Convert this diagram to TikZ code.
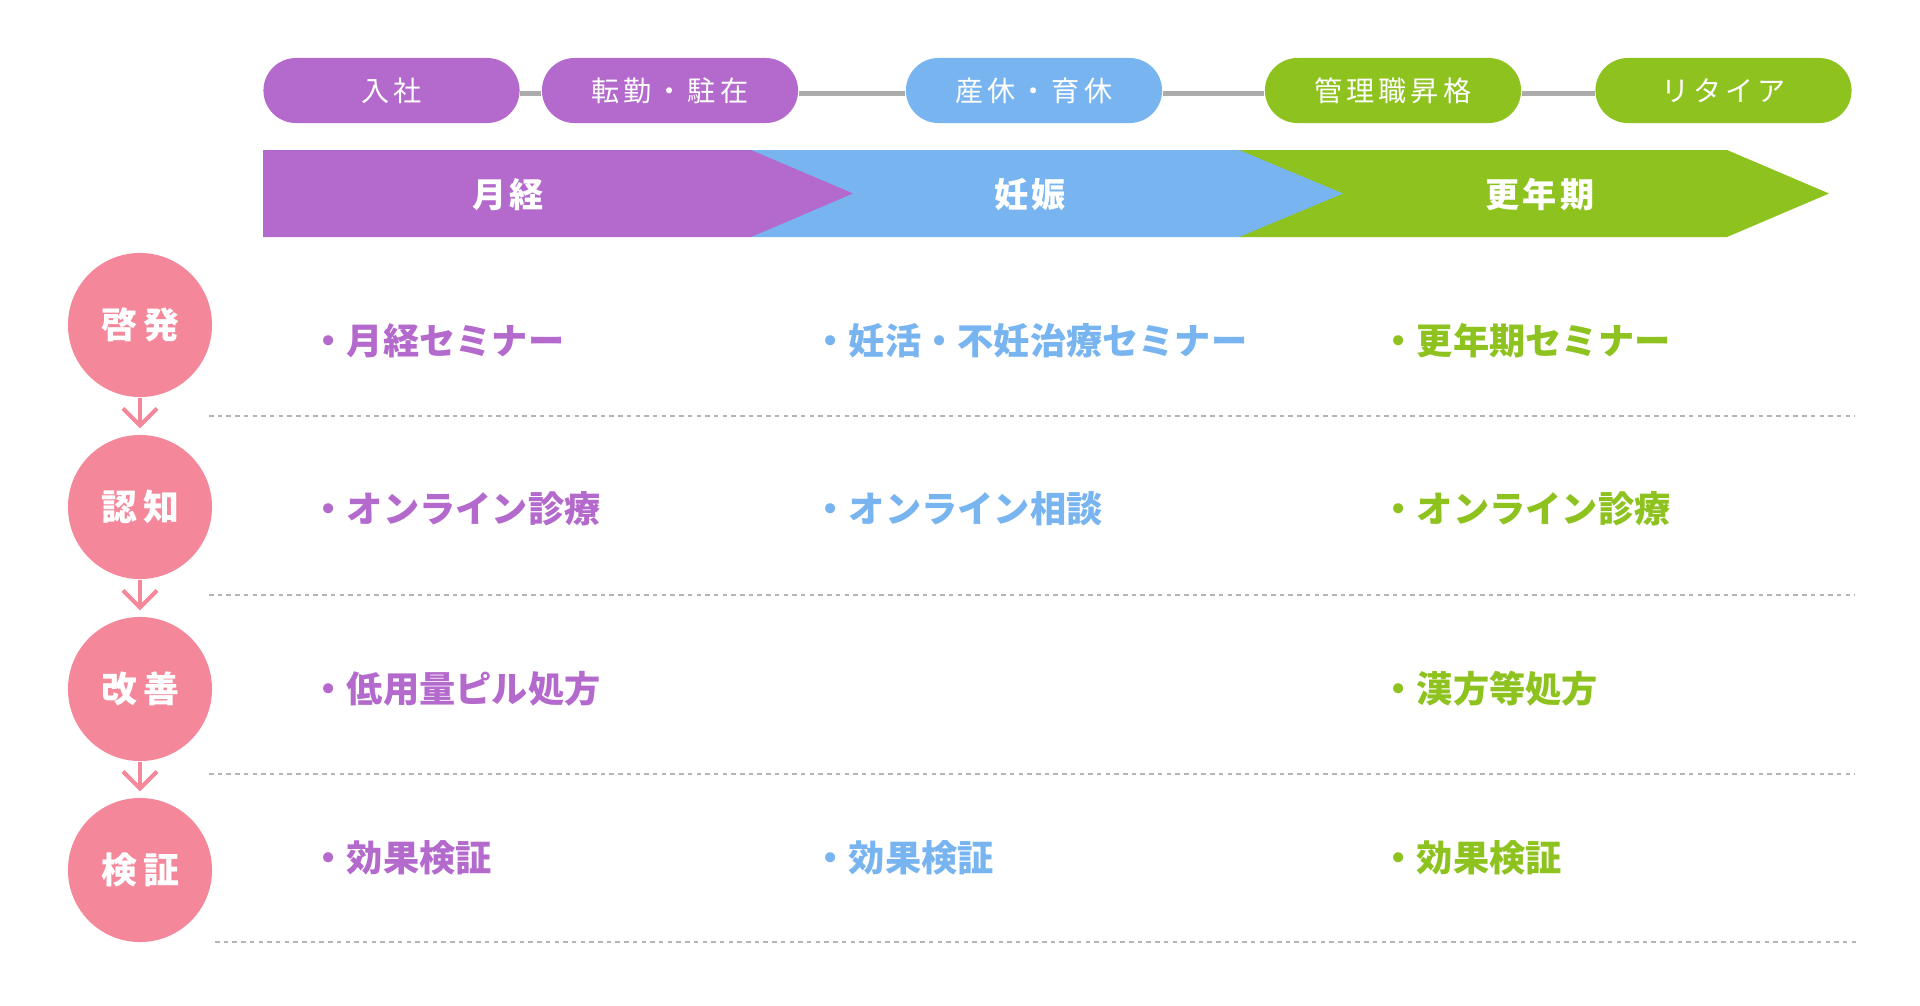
\documentclass[tikz,border=0pt]{standalone}
\usepackage{fontspec}
\setmainfont{Noto Sans CJK JP}
\usetikzlibrary{arrows.meta,backgrounds}
\definecolor{cpurple}{HTML}{B469CC}
\definecolor{cblue}{HTML}{78B4F0}
\definecolor{cgreen}{HTML}{8DC21F}
\definecolor{cpink}{HTML}{F4889A}
\definecolor{cline}{HTML}{ABABAB}
\definecolor{cdash}{HTML}{B5B5B5}
\begin{document}
\begin{tikzpicture}[x=0.01cm,y=-0.01cm,
  pill/.style={rounded corners=0.325cm, minimum width=2.56cm, minimum height=0.65cm, inner sep=0pt,
    text=white, font=\fontsize{8}{9}\selectfont\addfontfeature{LetterSpace=14}},
  bandlabel/.style={text=white, inner sep=0pt, font=\fontsize{9.7}{11}\selectfont\bfseries\addfontfeature{LetterSpace=9}},
  stage/.style={circle, fill=cpink, minimum size=1.44cm, inner sep=0pt, text=white,
    font=\fontsize{10.2}{12}\selectfont\bfseries\addfontfeature{LetterSpace=17}},
  item/.style={anchor=west, inner sep=0pt, font=\fontsize{10.3}{12}\selectfont\bfseries},
  stagearrow/.style={draw=cpink, line width=0.04cm, -{Straight Barb[length=0.17cm,width=0.34cm,line width=0.04cm]}, shorten >=0.06cm},
  sep/.style={draw=cdash, line width=0.02cm, dash pattern=on 0.045cm off 0.042cm},
]
\useasboundingbox (0,0) rectangle (1920,1005);

% life events
\node[pill, fill=cpurple] (p1) at (391.5,90.5) {入社};
\node[pill, fill=cpurple] (p2) at (670,90.5) {転勤・駐在};
\node[pill, fill=cblue]   (p3) at (1034,90.5) {産休・育休};
\node[pill, fill=cgreen]  (p4) at (1393,90.5) {管理職昇格};
\node[pill, fill=cgreen]  (p5) at (1723.5,90.5) {リタイア};
\begin{pgfonlayer}{background}
  \draw[cline, line width=0.05cm] ([yshift=-0.03cm]p1.east) -- ([yshift=-0.03cm]p2.west)
    ([yshift=-0.03cm]p2.east) -- ([yshift=-0.03cm]p3.west)
    ([yshift=-0.03cm]p3.east) -- ([yshift=-0.03cm]p4.west)
    ([yshift=-0.03cm]p4.east) -- ([yshift=-0.03cm]p5.west);
\end{pgfonlayer}

% phase band
\fill[cgreen]  (1239,150) -- (1727,150) -- (1829,193.5) -- (1727,237) -- (1239,237) -- cycle;
\fill[cblue]   (751,150) -- (1239,150) -- (1343,193.5) -- (1239,237) -- (751,237) -- cycle;
\fill[cpurple] (263,150) -- (751,150) -- (853,193.5) -- (751,237) -- (263,237) -- cycle;
\node[bandlabel] (b1) at (508,195) {月経};
\node[bandlabel] (b2) at (1030,195) {妊娠};
\node[bandlabel] (b3) at (1540,195) {更年期};

% stages
\node[stage] (s1) at (140,325) {啓発};
\node[stage] (s2) at (140,507) {認知};
\node[stage] (s3) at (140,689) {改善};
\node[stage] (s4) at (140,870) {検証};
\draw[stagearrow] (s1) -- (s2);
\draw[stagearrow] (s2) -- (s3);
\draw[stagearrow] (s3) -- (s4);

% separators
\coordinate (d1a) at (209,416); \coordinate (d1b) at (1855,416);
\coordinate (d2a) at (209,595); \coordinate (d2b) at (1855,595);
\coordinate (d3a) at (209,774); \coordinate (d3b) at (1855,774);
\coordinate (d4a) at (215,942); \coordinate (d4b) at (1860,942);
\draw[sep] (d1a) -- (d1b);
\draw[sep] (d2a) -- (d2b);
\draw[sep] (d3a) -- (d3b);
\draw[sep] (d4a) -- (d4b);

% items
\node[item, text=cpurple] (i11) at (310,341) {・月経セミナー};
\node[item, text=cblue]   (i12) at (812,341) {・妊活・不妊治療セミナー};
\node[item, text=cgreen]  (i13) at (1380,341) {・更年期セミナー};
\node[item, text=cpurple] (i21) at (310,509) {・オンライン診療};
\node[item, text=cblue]   (i22) at (812,509) {・オンライン相談};
\node[item, text=cgreen]  (i23) at (1380,509) {・オンライン診療};
\node[item, text=cpurple] (i31) at (310,689) {・低用量ピル処方};
\node[item, text=cgreen]  (i33) at (1380,689) {・漢方等処方};
\node[item, text=cpurple] (i41) at (310,858) {・効果検証};
\node[item, text=cblue]   (i42) at (812,858) {・効果検証};
\node[item, text=cgreen]  (i43) at (1380,858) {・効果検証};
\end{tikzpicture}
\end{document}
